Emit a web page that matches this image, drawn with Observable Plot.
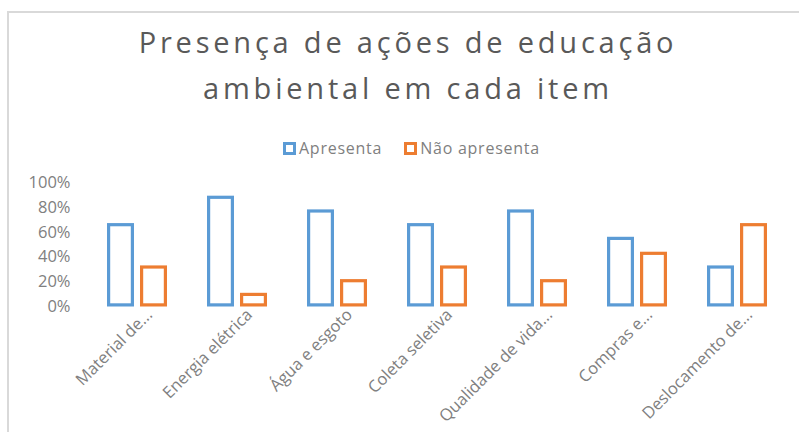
<!DOCTYPE html>
<html>
<head>
<meta charset="utf-8">
<script src="https://cdn.jsdelivr.net/npm/d3@7"></script>
<script src="https://cdn.jsdelivr.net/npm/@observablehq/plot@0.6"></script>
<style>
  body { margin: 0; background: #fff; font-family: "Open Sans", sans-serif; }
  #wrap { position: relative; width: 799px; height: 432px; overflow: hidden; background: #fff; }
  #frame { position: absolute; left: 7px; top: 11px; width: 820px; height: 440px; border-left: 2px solid #d9d9d9; border-top: 2px solid #d9d9d9; box-sizing: border-box; }
  #title { position: absolute; left: 8px; width: 800px; top: 19px; text-align: center; color: #595959; font-size: 29px; letter-spacing: 3.8px; line-height: 46px; }
  #legend { position: absolute; top: 137px; left: 283px; display: flex; align-items: center; font-size: 16px; color: #7f7f7f; letter-spacing: 0.75px; }
  .sw { display: inline-block; width: 13px; height: 13px; box-sizing: border-box; border: 3px solid; margin-right: 3px; }
  .item { display: flex; align-items: center; margin-right: 22px; }
  #chart { position: absolute; left: 0; top: 160px; }
</style>
</head>
<body>
<div id="wrap">
  <div id="frame"></div>
  <div id="title">Presença de ações de educação<br>ambiental em cada item</div>
  <div id="legend"></div>
  <div id="chart"></div>
</div>
<script>
const categories = ["Material de...", "Energia elétrica", "Água e esgoto", "Coleta seletiva", "Qualidade de vida...", "Compras e...", "Deslocamento de..."];
const series = ["Apresenta", "Não apresenta"];
const colors = ["#5B9BD5", "#ED7D31"];
const apresenta = [0.67, 0.89, 0.78, 0.67, 0.78, 0.56, 0.33];
const naoApresenta = [0.33, 0.11, 0.22, 0.33, 0.22, 0.44, 0.67];
const yTicks = [0, 0.2, 0.4, 0.6, 0.8, 1];
const yTickLabels = ["0%", "20%", "40%", "60%", "80%", "100%"];

const data = [];
categories.forEach((c, i) => {
  data.push({category: c, series: series[0], value: apresenta[i]});
  data.push({category: c, series: series[1], value: naoApresenta[i]});
});

// legend
const legend = document.getElementById("legend");
series.forEach((s, i) => {
  const it = document.createElement("span");
  it.className = "item";
  const sw = document.createElement("span");
  sw.className = "sw";
  sw.style.borderColor = colors[i];
  it.appendChild(sw);
  it.appendChild(document.createTextNode(s));
  legend.appendChild(it);
});

const chart = Plot.plot({
  width: 799,
  height: 272,
  marginLeft: 87,
  marginRight: 12,
  marginTop: 22,
  marginBottom: 125.5,
  style: {fontFamily: "Open Sans, sans-serif", fontSize: "15px", color: "#808080", background: "transparent"},
  fx: {domain: categories, padding: 0, label: null, axis: null},
  x: {domain: series, paddingInner: 0.1765, paddingOuter: 0.559, axis: null},
  y: {domain: [0, 1], label: null},
  color: {domain: series, range: colors},
  marks: [
    Plot.axisY({ticks: yTicks, tickFormat: (d) => yTickLabels[yTicks.indexOf(d)], tickSize: 0, tickPadding: 17, label: null, fontSize: 16.5}),
    Plot.axisFx({anchor: "bottom", tickRotate: -45, tickSize: 0, tickPadding: 10, label: null, fontSize: 16.5, dx: 12, dy: -5}),
    Plot.barY(data, {fx: "category", x: "series", y: "value", fill: "white", stroke: "series", strokeWidth: 3.2, inset: 1.6})
  ]
});
document.getElementById("chart").appendChild(chart);
</script>
</body>
</html>
